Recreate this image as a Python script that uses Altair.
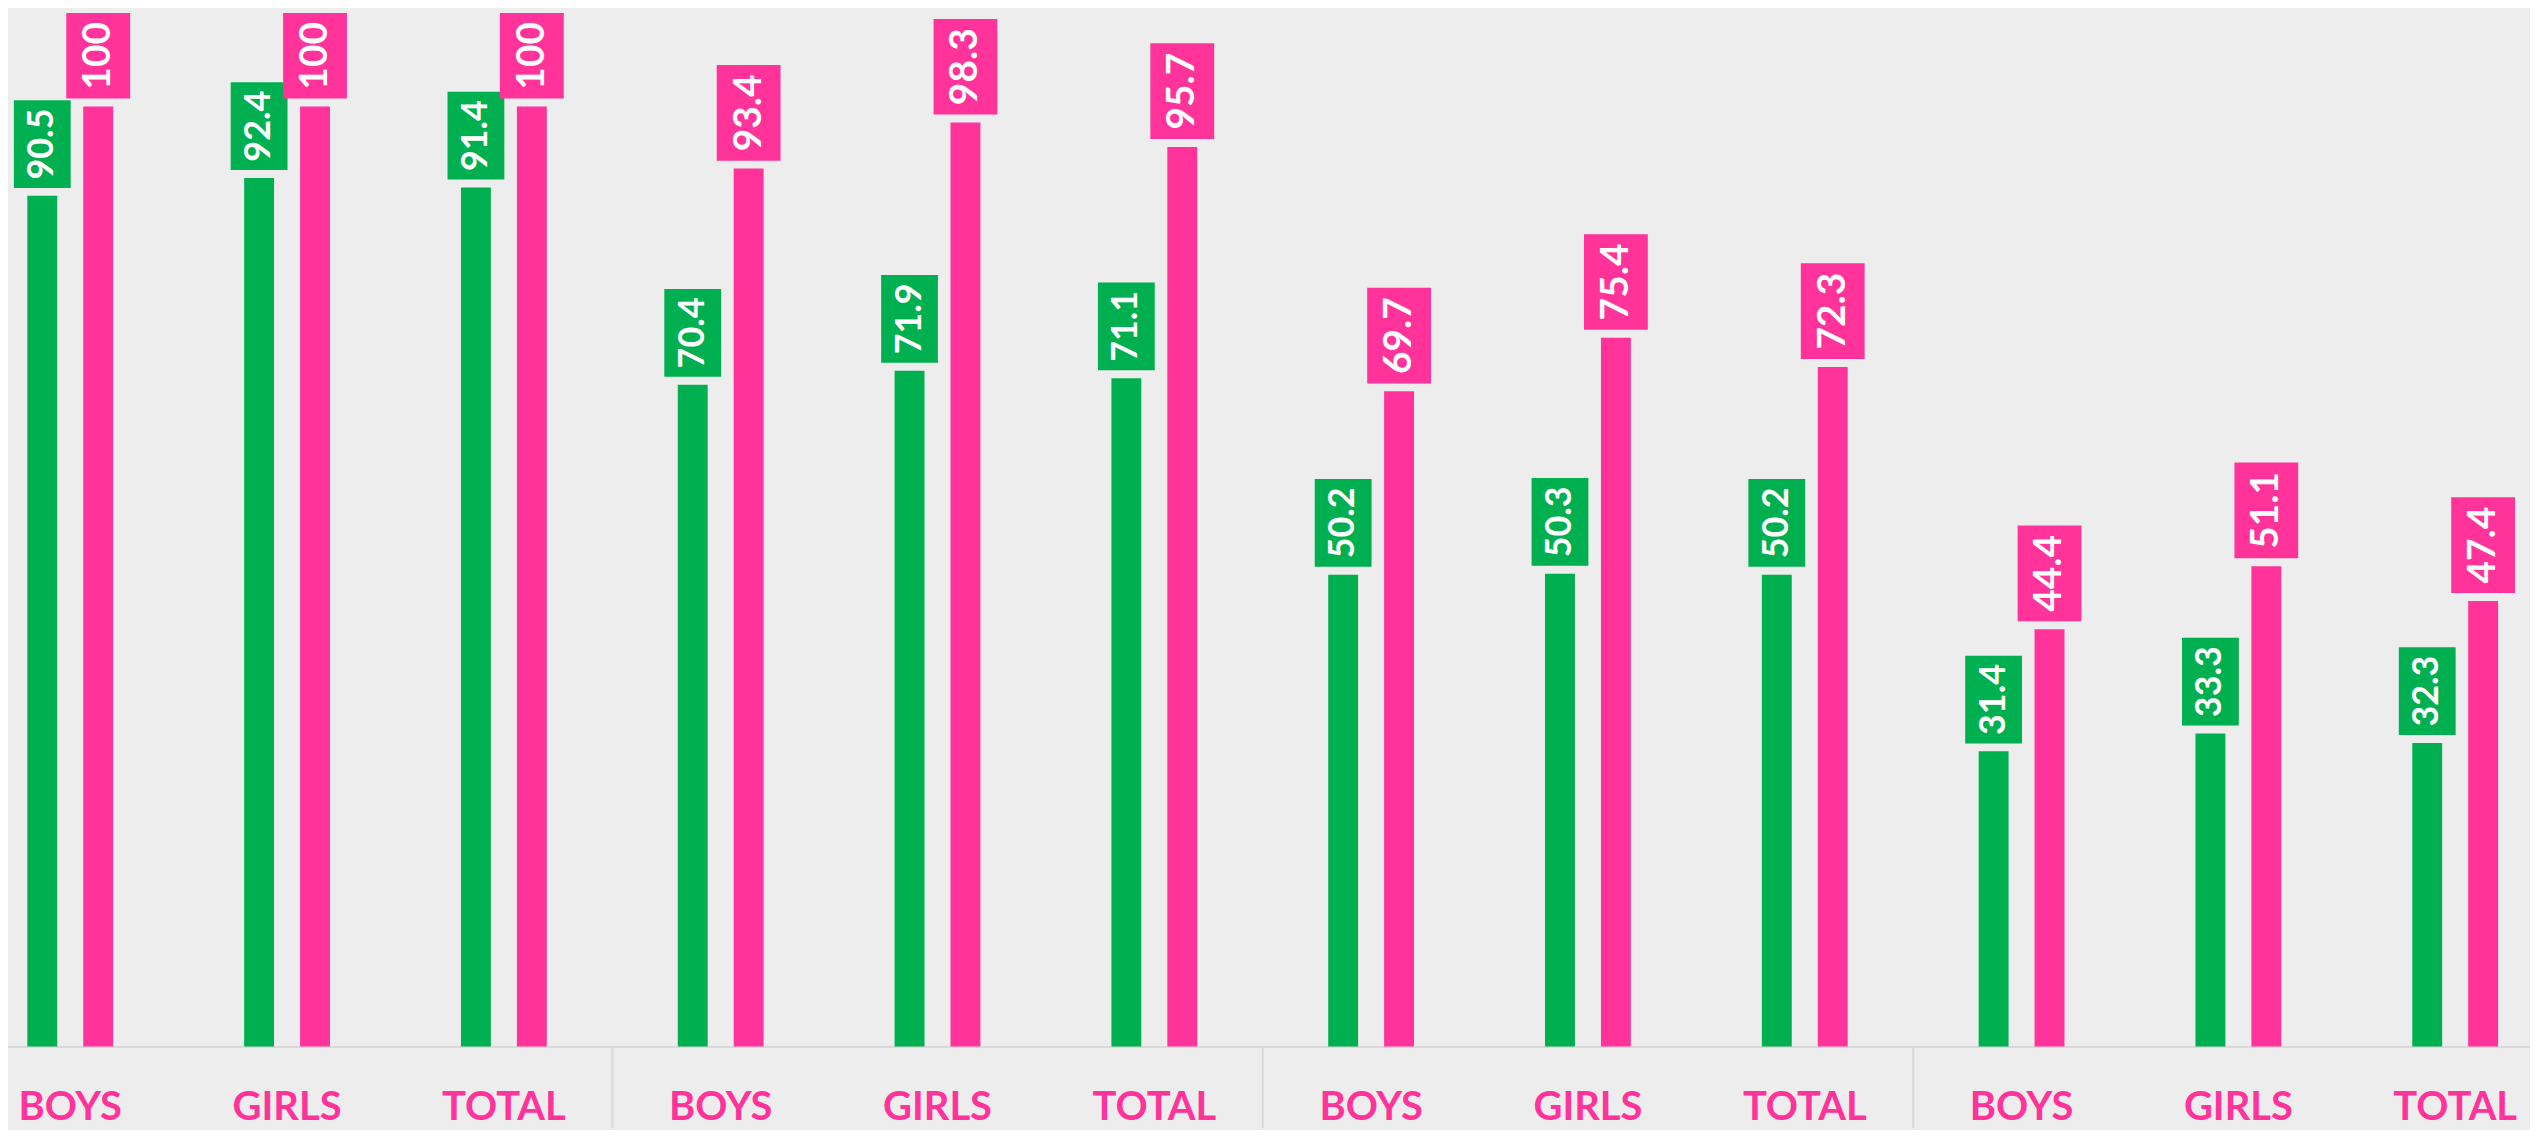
import altair as alt
import pandas as pd

# ---------------- data ----------------
SECTIONS = ["0", "1", "2", "3"]
GROUPS = ["BOYS", "GIRLS", "TOTAL"]
GREEN = [90.5, 92.4, 91.4, 70.4, 71.9, 71.1, 50.2, 50.3, 50.2, 31.4, 33.3, 32.3]
PINK = [100, 100, 100, 93.4, 98.3, 95.7, 69.7, 75.4, 72.3, 44.4, 51.1, 47.4]
SERIES = ["g", "p"]

# ---------------- style ----------------
GREEN_C = "#00B050"
PINK_C = "#FF3399"
BG = "#EDEDED"
AXIS_C = "#D9D9D9"
FONT = "Lato"

W = 2530
H = 1040
PB = 82
YMAX = 110.3
PPU = H / YMAX
GAP = 8

keys = [f"{s}|{g}" for s in SECTIONS for g in GROUPS]
rows = []
for k, gv, pv in zip(keys, GREEN, PINK):
    rows.append({"key": k, "series": "g", "value": gv})
    rows.append({"key": k, "series": "p", "value": pv})
df = pd.DataFrame(rows)
sep_df = pd.DataFrame({"key": [f"{s}|{GROUPS[0]}" for s in SECTIONS]})

xaxis = alt.Axis(
    title=None, labelExpr="split(datum.label, '|')[1]", labelAngle=0,
    labelFont=FONT, labelFontWeight="bold", labelFontSize=40, labelColor=PINK_C,
    labelPadding=73, labelBaseline="alphabetic", ticks=False,
    domainColor=AXIS_C, domainWidth=2, grid=False,
    labelBound=False, labelFlush=False, labelOverlap=False,
)
xscale = alt.Scale(domain=keys, range=[-46.3, 2563.7], paddingInner=0, paddingOuter=0)
X = alt.X("key:N", sort=keys, scale=xscale, axis=xaxis)
XO = alt.XOffset("series:N", scale=alt.Scale(domain=SERIES, paddingInner=0, paddingOuter=0.9385))
yscale = alt.Scale(domain=[0, YMAX], nice=False, zero=True)
COLOR = alt.Color("series:N", scale=alt.Scale(domain=SERIES, range=[GREEN_C, PINK_C]), legend=None)

base = alt.Chart(df)

bars = base.mark_bar(size=30).encode(
    x=X, xOffset=XO, y=alt.Y("value:Q", scale=yscale, axis=None), color=COLOR
)


def label_layers(series, fs, pad, box_w):
    calc = base.transform_filter(alt.datum.series == series).transform_calculate(
        label="datum.value == floor(datum.value) ? format(datum.value, 'd') : format(datum.value, '.1f')"
    ).transform_calculate(
        nd="indexof(datum.label, '.') >= 0 ? 1 : 0"
    ).transform_calculate(
        lenpx=f"{fs}*(0.58*(length(datum.label) - datum.nd) + 0.26*datum.nd) + {2*pad}"
    ).transform_calculate(
        b0=f"datum.value + {GAP}/{PPU}",
        b1=f"datum.value + ({GAP} + datum.lenpx)/{PPU}",
        mid=f"datum.value + ({GAP} + datum.lenpx/2)/{PPU}",
    )
    box = calc.mark_bar(size=box_w).encode(
        x=X, xOffset=XO,
        y=alt.Y("b0:Q", scale=yscale, axis=None), y2="b1:Q",
        color=COLOR,
    )
    txt = calc.mark_text(
        angle=270, font=FONT, fontWeight="bold", fontSize=fs, color="white",
        align="center", baseline="middle",
    ).encode(
        x=X, xOffset=XO,
        y=alt.Y("mid:Q", scale=yscale, axis=None),
        text="label:N",
    )
    return box, txt


gbox, gtxt = label_layers("g", 36, 8, 57)
pbox, ptxt = label_layers("p", 39, 9, 64)

seps = alt.Chart(sep_df).mark_rule(color=AXIS_C, strokeWidth=2).encode(
    x=alt.X("key:N", sort=keys, scale=xscale, axis=xaxis, bandPosition=0),
    y=alt.value(H), y2=alt.value(H + PB),
)

chart = alt.layer(seps, bars, gbox, pbox, gtxt, ptxt).properties(
    width=W, height=H,
    padding={"left": 0, "right": 0, "top": 0, "bottom": PB},
    autosize=alt.AutoSizeParams(type="none"),
    background=BG,
).configure_view(stroke=None)

chart.save("out.html", embed_options={"renderer": "svg", "actions": False})
